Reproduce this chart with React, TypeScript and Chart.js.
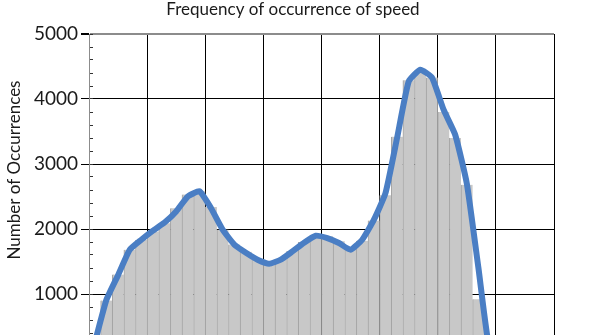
import React, { useEffect, useRef } from 'react';
import { Chart, registerables } from 'chart.js';

Chart.register(...registerables);

const chartTitle = 'Frequency of occurrence of speed';
const yAxisTitle = 'Number of Occurrences';

// centre of each speed bin (bins are 1 unit wide)
const speedBins = [
  0.5, 1.5, 2.5, 3.5, 4.5, 5.5, 6.5, 7.5, 8.5, 9.5,
  10.5, 11.5, 12.5, 13.5, 14.5, 15.5, 16.5, 17.5, 18.5, 19.5,
  20.5, 21.5, 22.5, 23.5, 24.5, 25.5, 26.5, 27.5, 28.5, 29.5,
  30.5, 31.5, 32.5, 33.5, 34.5, 35.5, 36.5, 37.5, 38.5, 39.5,
];

// histogram bar heights
const occurrenceBars = [
  350, 900, 1300, 1680, 1830, 1960, 2090, 2320, 2530, 2580,
  2340, 1990, 1760, 1650, 1530, 1480, 1530, 1660, 1800, 1900,
  1890, 1810, 1690, 1820, 2130, 2520, 3420, 4290, 4420, 4330,
  3800, 3400, 2680, 920, 150, 0, 0, 0, 0, 0,
];

// smoothed curve over the histogram
const occurrenceCurve = [
  250, 910, 1290, 1680, 1835, 1975, 2100, 2270, 2500, 2580,
  2320, 1990, 1760, 1635, 1528, 1466, 1528, 1655, 1790, 1897,
  1860, 1785, 1680, 1835, 2140, 2550, 3400, 4270, 4450, 4330,
  3835, 3450, 2700, 1400, 100, 0, 0, 0, 0, 0,
];

const yMin = 0;
const yMax = 5000;
const yMajorStep = 1000;
const yMinorStep = 200;
const xMin = 0;
const xMax = 40;
const xStep = 5;

const FONT = 'Lato, "Noto Sans", sans-serif';
const TEXT = '#1a1a1a';

const yTitlePlugin = {
  id: 'yTitlePlugin',
  afterDraw(chart: any) {
    const ctx = chart.ctx;
    ctx.save();
    ctx.translate(15, 170);
    ctx.rotate(-Math.PI / 2);
    ctx.font = `17px ${FONT}`;
    ctx.fillStyle = TEXT;
    ctx.textAlign = 'center';
    ctx.textBaseline = 'middle';
    ctx.fillText(yAxisTitle, 0, 0);
    ctx.restore();
  },
};

export default function App() {
  const canvasRef = useRef<HTMLCanvasElement | null>(null);

  useEffect(() => {
    const canvas = canvasRef.current;
    if (!canvas) return;
    const chart = new Chart(canvas, {
      type: 'bar',
      data: {
        datasets: [
          {
            type: 'line',
            label: 'curve',
            data: speedBins.map((x, i) => ({ x, y: occurrenceCurve[i] })),
            borderColor: '#4a7ec4',
            borderWidth: 6,
            pointRadius: 0,
            fill: false,
            tension: 0.15,
            borderJoinStyle: 'round',
            borderCapStyle: 'round',
            order: 0,
          } as any,
          {
            type: 'bar',
            label: 'count',
            data: speedBins.map((x, i) => ({ x, y: occurrenceBars[i] })),
            backgroundColor: '#c8c8c8',
            borderColor: '#a2a2a2',
            borderWidth: { left: 1, right: 0, top: 0, bottom: 0 },
            borderSkipped: false,
            barPercentage: 1,
            categoryPercentage: 1,
            order: 1,
          } as any,
        ],
      },
      options: {
        responsive: false,
        animation: false,
        devicePixelRatio: 1,
        layout: { padding: { left: 0, right: 9, top: 0, bottom: 21 } },
        plugins: {
          legend: { display: false },
          tooltip: { enabled: false },
          title: {
            display: true,
            text: chartTitle,
            fullSize: true,
            color: TEXT,
            font: { family: FONT, size: 17, weight: 'normal', lineHeight: 1.0 },
            padding: { top: 1, bottom: 16 },
          },
        },
        scales: {
          x: {
            type: 'linear',
            min: xMin,
            max: xMax,
            offset: false,
            ticks: { display: false, stepSize: xStep },
            grid: {
              offset: false,
              drawTicks: false,
              color: (c: any) => (c.tick && c.tick.value === xMin ? '#8c8c8c' : '#000000'),
              lineWidth: 1,
            },
            border: { display: false },
            afterFit: (s: any) => {
              s.height = 0;
            },
          } as any,
          y: {
            type: 'linear',
            position: 'left',
            weight: 1,
            min: yMin,
            max: yMax,
            ticks: {
              stepSize: yMajorStep,
              color: TEXT,
              font: { family: FONT, size: 19 },
              padding: 3,
              callback: (v: any) => String(v),
            },
            grid: {
              color: (c: any) => (c.tick && c.tick.value === yMax ? '#8c8c8c' : '#000000'),
              lineWidth: (c: any) => (c.tick && c.tick.value === yMax ? 2 : 1),
              tickColor: '#000000',
              tickLength: 8,
            },
            border: { display: true, color: '#8c8c8c', width: 1 },
            afterFit: (s: any) => {
              s.width = 89;
            },
          } as any,
          yMinor: {
            type: 'linear',
            position: 'left',
            weight: 0,
            min: yMin,
            max: yMax,
            ticks: { display: false, stepSize: yMinorStep, autoSkip: false },
            grid: {
              drawOnChartArea: false,
              drawTicks: true,
              tickLength: -4,
              tickColor: '#333333',
              color: '#333333',
            },
            border: { display: false },
            afterFit: (s: any) => {
              s.width = 0;
            },
          } as any,
          ySpacer: {
            type: 'linear',
            position: 'right',
            min: yMin,
            max: yMax,
            ticks: { display: false },
            grid: { display: false, drawTicks: false },
            border: { display: false },
            afterFit: (s: any) => {
              s.width = 32;
            },
          } as any,
        },
      },
      plugins: [yTitlePlugin],
    });
    return () => chart.destroy();
  }, []);

  return (
    <div style={{ position: 'absolute', left: 0, top: 0, width: 595, height: 380 }}>
      <canvas ref={canvasRef} width={595} height={380} style={{ display: 'block' }} />
    </div>
  );
}
